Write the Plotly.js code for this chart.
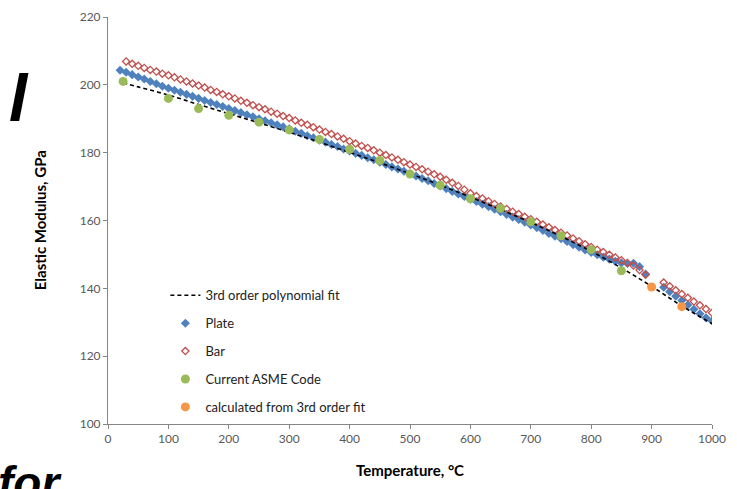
<!DOCTYPE html>
<html>
<head>
<meta charset="utf-8">
<script src="https://cdn.plot.ly/plotly-3.0.1.min.js"></script>
<style>html,body{margin:0;padding:0;background:#fff;}#chart{width:737px;height:489px;}</style>
</head>
<body>
<div id="chart"></div>
<script>
// ---- data ----
const plateT = [20,30,40,50,60,70,80,90,100,110,120,130,140,150,160,170,180,190,200,210,220,230,240,250,260,270,280,290,300,310,320,330,340,350,360,370,380,390,400,410,420,430,440,450,460,470,480,490,500,510,520,530,540,550,560,570,580,590,600,610,620,630,640,650,660,670,680,690,700,710,720,730,740,750,760,770,780,790,800,810,820,830,840,850,860,870,880,890,900,910,920,930,940,950,960,970,980,990,1000];
const plateE = [204.3,203.7,203.0,202.3,201.7,201.0,200.3,199.6,199.0,198.4,197.8,197.2,196.6,196.0,195.4,194.8,194.2,193.6,193.0,192.4,191.8,191.2,190.6,190.0,189.4,188.8,188.2,187.6,187.0,186.3,185.7,185.0,184.4,183.7,183.1,182.4,181.8,181.1,180.5,179.8,179.2,178.5,177.9,177.2,176.5,175.8,175.2,174.5,173.8,173.1,172.4,171.7,170.9,170.2,169.4,168.6,167.8,167.1,166.3,165.6,164.8,164.1,163.3,162.6,161.8,161.0,160.3,159.5,158.7,157.9,157.1,156.2,155.4,154.6,153.8,152.9,152.1,151.3,150.6,149.9,149.2,148.6,148.0,147.5,147.3,147.4,146.4,144.2,null,null,140.3,139.0,137.7,136.4,135.1,133.8,132.5,131.3,130.4];

const barT = [30,40,50,60,70,80,90,100,110,120,130,140,150,160,170,180,190,200,210,220,230,240,250,260,270,280,290,300,310,320,330,340,350,360,370,380,390,400,410,420,430,440,450,460,470,480,490,500,510,520,530,540,550,560,570,580,590,600,610,620,630,640,650,660,670,680,690,700,710,720,730,740,750,760,770,780,790,800,810,820,830,840,850,860,870,880,890,900,910,920,930,940,950,960,970,980,990,1000];
const barE = [206.9,206.2,205.6,205.0,204.4,203.9,203.3,202.8,202.2,201.6,201.0,200.4,199.8,199.2,198.5,197.9,197.2,196.6,196.0,195.3,194.7,194.0,193.4,192.8,192.1,191.5,190.8,190.2,189.5,188.8,188.2,187.5,186.8,186.1,185.5,184.8,184.1,183.4,182.7,182.0,181.4,180.7,180.0,179.3,178.6,177.9,177.2,176.5,175.8,175.1,174.4,173.6,172.9,172.0,171.1,170.2,169.1,168.0,167.2,166.5,165.7,164.9,164.1,163.4,162.6,161.9,161.1,160.4,159.6,158.8,158.0,157.2,156.4,155.6,154.7,153.9,153.0,152.2,151.4,150.7,149.9,149.1,148.3,147.5,146.7,145.4,144.0,null,null,141.7,140.6,139.4,138.3,137.2,136.1,135.0,133.9,132.8];

const fitT = [25,50,100,150,200,250,300,350,400,450,500,550,600,650,700,750,800,850,900,950,1000];
const fitE = [200.6,199.4,197.0,194.2,191.5,188.8,186.0,183.1,180.1,177.0,173.8,170.4,166.9,163.2,159.4,155.3,150.9,146.0,140.6,134.8,129.6];

const asmeT = [25,100,150,200,250,300,350,400,450,500,550,600,650,700,750,800,850];
const asmeE = [201,196,193,191,189,186.7,183.9,181,177.7,173.7,170.4,166.4,163.6,159.6,155.5,151.4,145.2];

const calcT = [900,950];
const calcE = [140.4,134.6];

const xTicks = [0,100,200,300,400,500,600,700,800,900,1000];
const yTicks = [100,120,140,160,180,200,220];

const traces = [
  {x: plateT, y: plateE, name: 'Plate', type: 'scatter', mode: 'markers',
   marker: {symbol: 'diamond', size: 7, color: '#4F81BD'}, legendrank: 2},
  {x: barT, y: barE, name: 'Bar', type: 'scatter', mode: 'markers',
   marker: {symbol: 'diamond-open', size: 5.5, color: '#C0504D', line: {width: 1.3, color: '#C0504D'}}, legendrank: 3},
  {x: fitT, y: fitE, name: '3rd order polynomial fit', type: 'scatter', mode: 'lines',
   line: {color: '#000', width: 1.6, dash: '4px,3px', shape: 'spline'}, legendrank: 1},
  {x: asmeT, y: asmeE, name: 'Current ASME Code', type: 'scatter', mode: 'markers',
   marker: {symbol: 'circle', size: 9, color: '#9BBB59'}, legendrank: 4},
  {x: calcT, y: calcE, name: 'calculated from 3rd order fit', type: 'scatter', mode: 'markers',
   marker: {symbol: 'circle', size: 9, color: '#F79646'}, legendrank: 5}
];

const F = 'Lato, "Open Sans", sans-serif';
const layout = {
  width: 737, height: 489,
  margin: {l: 108, r: 25, t: 17, b: 65},
  paper_bgcolor: '#fff', plot_bgcolor: '#fff',
  font: {family: F, size: 12, color: '#595959'},
  showlegend: true,
  legend: {x: 0.095, y: 0.353, xanchor: 'left', yanchor: 'top',
    font: {family: F, size: 13, color: '#222'}, bgcolor: 'rgba(0,0,0,0)',
    traceorder: 'grouped', tracegroupgap: 8, itemwidth: 30},
  xaxis: {range: [0, 1000], tickvals: xTicks, ticktext: xTicks.map(String),
    showgrid: false, zeroline: false, showline: true, linecolor: '#868686', linewidth: 1,
    ticks: 'outside', ticklen: 4, tickcolor: '#868686', tickfont: {size: 12, color: '#595959'}},
  yaxis: {range: [100, 220], tickvals: yTicks, ticktext: yTicks.map(String),
    showgrid: false, zeroline: false, showline: true, linecolor: '#868686', linewidth: 1,
    ticks: 'outside', ticklen: 4, tickcolor: '#868686', tickfont: {size: 12, color: '#595959'}},
  annotations: [
    {text: '<b>Temperature, °C</b>', xref: 'paper', yref: 'paper', x: 0.5, y: -0.113,
     xanchor: 'center', yanchor: 'middle', showarrow: false, font: {family: F, size: 15, color: '#000'}},
    {text: '<b>Elastic Modulus, GPa</b>', xref: 'paper', yref: 'paper', x: -0.113, y: 0.5,
     xanchor: 'center', yanchor: 'middle', textangle: -90, showarrow: false, font: {family: F, size: 15, color: '#000'}},
    {text: '<b><i>l</i></b>', xref: 'paper', yref: 'paper', x: -0.148, y: 0.80,
     xanchor: 'center', yanchor: 'middle', showarrow: false, font: {family: '"Liberation Sans", Arial, sans-serif', size: 66, color: '#000'}},
    {text: '<b><i>for</i></b>', xref: 'paper', yref: 'paper', x: -0.185, y: -0.075,
     xanchor: 'left', yanchor: 'top', showarrow: false, font: {family: '"Liberation Sans", Arial, sans-serif', size: 46, color: '#000'}}
  ]
};
// put legend items in separate groups so tracegroupgap spaces them
traces.forEach((t, i) => { t.legendgroup = 'g' + i; });
Plotly.newPlot('chart', traces, layout, {displayModeBar: false, staticPlot: true});
</script>
</body>
</html>
